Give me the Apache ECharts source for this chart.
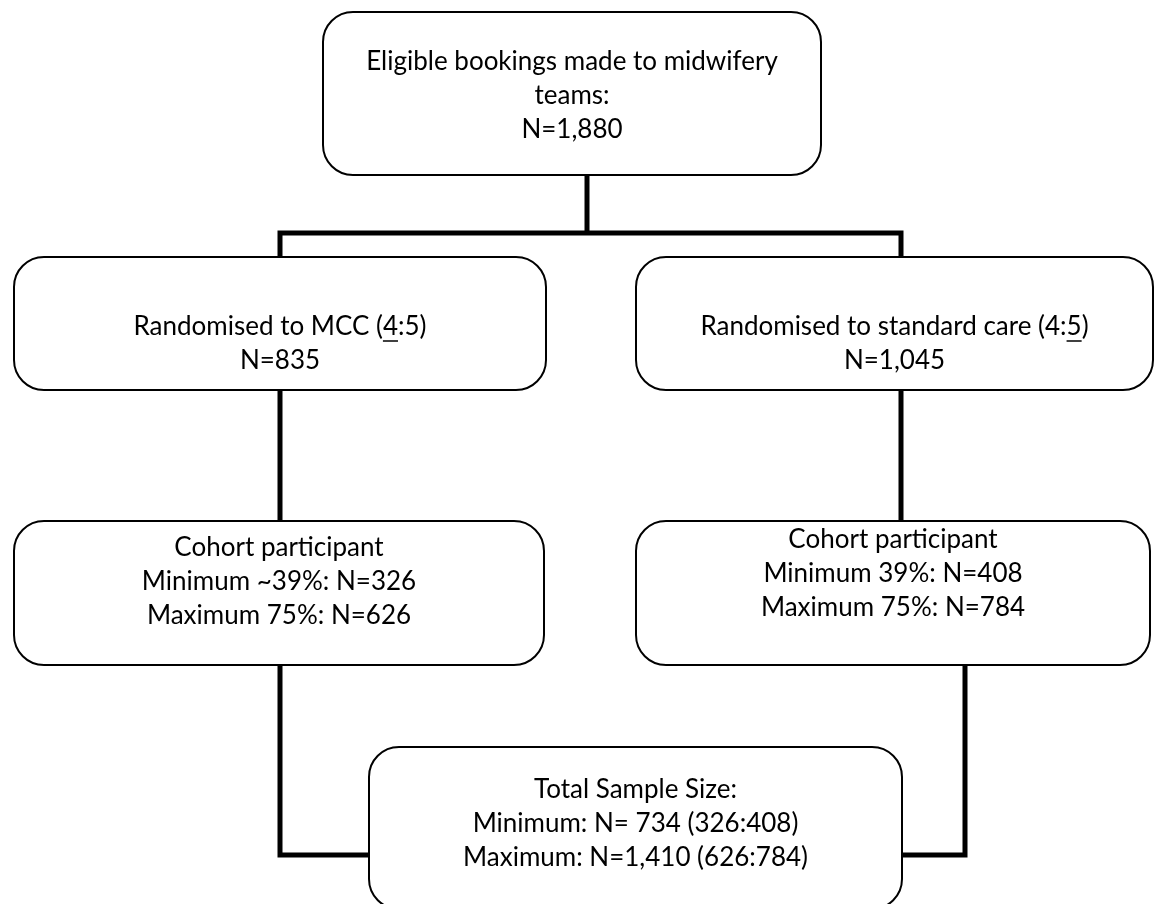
<!DOCTYPE html>
<html><head><meta charset="utf-8">
<script src="https://cdn.jsdelivr.net/npm/echarts@6/dist/echarts.min.js"></script>
<style>html,body{margin:0;padding:0;background:#fff}#c{width:1155px;height:904px}</style>
</head><body><div id="c"></div>
<script>
// ---- content ----
const topLines = ['Eligible bookings made to midwifery', 'teams:', 'N=1,880'];
const mccLines = ['Randomised to MCC (4:5)', 'N=835'];
const stdLines = ['Randomised to standard care (4:5)', 'N=1,045'];
const mccCohortLines = ['Cohort participant', 'Minimum ~39%: N=326', 'Maximum 75%: N=626'];
const stdCohortLines = ['Cohort participant', 'Minimum 39%: N=408', 'Maximum 75%: N=784'];
const totalLines = ['Total Sample Size:', 'Minimum: N= 734 (326:408)', 'Maximum: N=1,410 (626:784)'];
// underlined character (line index, char index) per box
const mccUnderline = [0, 'Randomised to MCC ('.length];
const stdUnderline = [0, 'Randomised to standard care (4:'.length];

// ---- layout ----
const FONT_SIZE = 26;
const FONT_FAMILY = 'Lato, "Open Sans", sans-serif';
const LINE_GAP = 34;
const boxes = [
  { lines: topLines,       x: 323, y: 12,  w: 498, h: 163, cy: 62 },
  { lines: mccLines,       x: 14,  y: 257, w: 532, h: 133, cy: 327, ul: mccUnderline },
  { lines: stdLines,       x: 636, y: 257, w: 517, h: 133, cy: 327, ul: stdUnderline },
  { lines: mccCohortLines, x: 14,  y: 521, w: 530, h: 144, cy: 548 },
  { lines: stdCohortLines, x: 636, y: 521, w: 514, h: 144, cy: 540 },
  { lines: totalLines,     x: 369, y: 747, w: 533, h: 162, cy: 790 }
];
const connectors = [
  [[587, 175], [587, 233]],
  [[280, 257], [280, 233], [901, 233], [901, 257]],
  [[280, 390], [280, 521]],
  [[901, 390], [901, 521]],
  [[280, 665], [280, 855], [369, 855]],
  [[965, 665], [965, 855], [902, 855]]
];

const ctx = document.createElement('canvas').getContext('2d');
ctx.font = FONT_SIZE + 'px ' + FONT_FAMILY;

const elements = [];
connectors.forEach(pts => {
  elements.push({ type: 'polyline', shape: { points: pts },
    style: { stroke: '#000', lineWidth: 5, fill: null, lineJoin: 'miter' }, z: 1 });
});
boxes.forEach(b => {
  elements.push({ type: 'rect', shape: { x: b.x, y: b.y, width: b.w, height: b.h, r: 30 },
    style: { fill: '#fff', stroke: '#000', lineWidth: 2 }, z: 2 });
  const cx = b.x + b.w / 2;
  b.lines.forEach((t, i) => {
    const y = b.cy + i * LINE_GAP;
    elements.push({ type: 'text', x: cx, y: y,
      style: { text: t, fill: '#000', font: FONT_SIZE + 'px ' + FONT_FAMILY,
        textAlign: 'center', textVerticalAlign: 'middle' }, z: 3 });
    if (b.ul && b.ul[0] === i) {
      const full = ctx.measureText(t).width;
      const pre = ctx.measureText(t.slice(0, b.ul[1])).width;
      const ch = ctx.measureText(t.charAt(b.ul[1])).width;
      const x0 = cx - full / 2 + pre;
      elements.push({ type: 'line', shape: { x1: x0, y1: y + 14, x2: x0 + ch, y2: y + 14 },
        style: { stroke: '#000', lineWidth: 1.5 }, z: 3 });
    }
  });
});

const chart = echarts.init(document.getElementById('c'), null, { renderer: 'canvas' });
chart.setOption({ backgroundColor: '#fff', animation: false, graphic: { elements } });
</script></body></html>
